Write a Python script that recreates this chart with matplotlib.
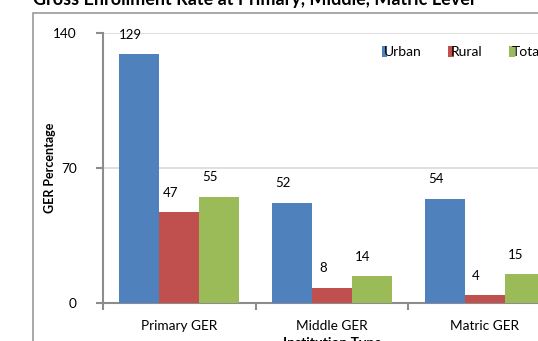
import numpy as np
import matplotlib.pyplot as plt
from matplotlib.patches import Rectangle

plt.rcParams['font.family'] = ['Lato', 'DejaVu Sans']

# data
categories = ['Primary GER', 'Middle GER', 'Matric GER']
series = ['Urban', 'Rural', 'Total']
urban = [129, 52, 54]
rural = [47, 8, 4]
total = [55, 14, 15]
colors = ['#4F81BD', '#C0504D', '#9BBB59']

W, H = 538, 341
fig = plt.figure(figsize=(W / 100, H / 100), dpi=100)

# chart area border (cut off on right and bottom)
fig.patches.append(Rectangle((33 / W, -0.1), 1.2, 1 - 13 / H + 0.1, transform=fig.transFigure,
                             fill=False, edgecolor='#9a9a9a', linewidth=1.2))

# plot area runs past the right edge of the picture
left, right, bottom, top = 103, 561, 303, 33
ax = fig.add_axes([left / W, 1 - bottom / H, (right - left) / W, (bottom - top) / H])

x = np.arange(len(categories))
bw = 0.262
for i, (vals, name) in enumerate(zip([urban, rural, total], series)):
    pos = x + (i - 1) * bw
    ax.bar(pos, vals, bw, color=colors[i], label=name, zorder=3)
    for p, v in zip(pos, vals):
        ax.annotate(str(v), (p, v), xytext=(-6.5, 14), textcoords='offset points',
                    ha='center', va='center', fontsize=9.5)

ax.set_xlim(-0.5, 2.5)
ax.set_ylim(0, 140)
ax.set_yticks([0, 70, 140])
ax.yaxis.grid(True, color='#d9d9d9', linewidth=1.2, zorder=0)
ax.set_xticks(x)
ax.set_xticklabels(categories)
ax.set_xticks([-0.5, 0.5, 1.5, 2.5], minor=True)
ax.tick_params(axis='x', which='major', length=0, pad=12, labelsize=9.8)
ax.tick_params(axis='x', which='minor', length=5, width=1.5, color='#8c8c8c')
ax.tick_params(axis='y', length=5, width=1.5, color='#8c8c8c', pad=14, labelsize=9.8)

for s in ['top', 'right']:
    ax.spines[s].set_visible(False)
for s in ['left', 'bottom']:
    ax.spines[s].set_color('#8c8c8c')
    ax.spines[s].set_linewidth(1.5)

ax.set_ylabel('GER Percentage', fontsize=9, fontweight='bold')
ax.yaxis.set_label_coords(-0.12 + 8 / 458, 0.5)
ax.set_xlabel('Institution Type', fontsize=10, fontweight='bold', labelpad=3.5)

leg = ax.legend(ncol=3, loc='upper left', bbox_to_anchor=(369 / W, 1 - 33 / H),
                bbox_transform=fig.transFigure, frameon=False, fontsize=10,
                handlelength=0.4, handleheight=0.9, handletextpad=-0.2, columnspacing=1.9)

fig.text(33 / W, 1.0, 'Gross Enrollment Rate at Primary, Middle, Matric Level',
         fontsize=13, fontweight='bold', va='center', ha='left')

fig.savefig('out.png', dpi=100)
